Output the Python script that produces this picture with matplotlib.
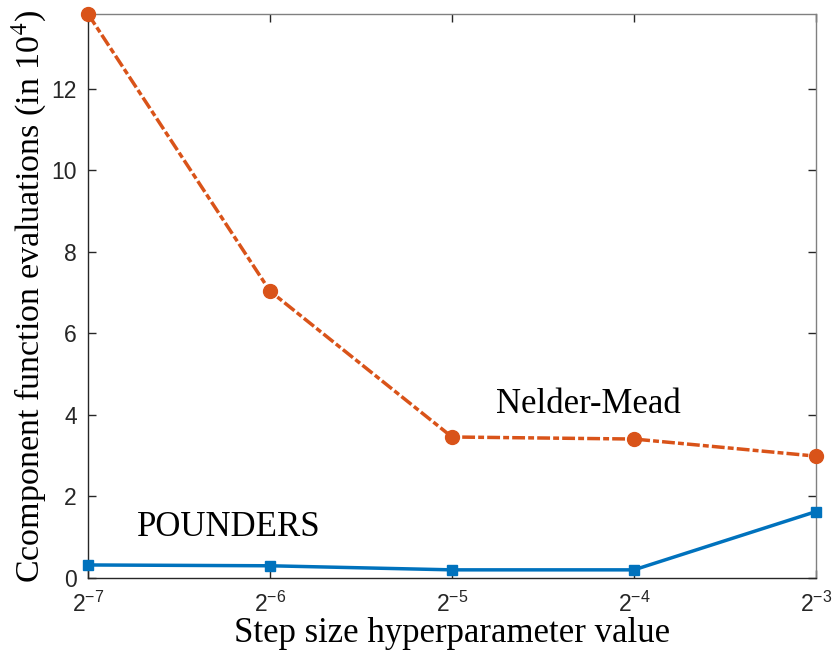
import matplotlib
matplotlib.use('Agg')
import matplotlib.pyplot as plt
import numpy as np

# step sizes as powers of two
step_exp = [-7, -6, -5, -4, -3]
nelder_mead = [13.84, 7.04, 3.46, 3.41, 2.99]
pounders = [0.32, 0.30, 0.20, 0.20, 1.63]
yticks = [0, 2, 4, 6, 8, 10, 12]

blue = '#0072BD'
orange = '#D95319'

plt.rcParams['mathtext.fontset'] = 'custom'
plt.rcParams['mathtext.rm'] = 'Liberation Sans'
plt.rcParams['mathtext.it'] = 'Liberation Sans:italic'
plt.rcParams['font.family'] = 'Liberation Sans'

steps = [2.0**e for e in step_exp]

fig = plt.figure(figsize=(8.35, 6.56), dpi=100)
ax = fig.add_axes([0.1054, 0.1189, 0.8718, 0.8598])

ax.plot(steps, nelder_mead, color=orange, linestyle=(0, (3.7, 0.9, 1.7, 0.9)),
        linewidth=2.5, marker='o', markersize=10, clip_on=False, zorder=3)
ax.plot(steps, pounders, color=blue, linestyle='-', linewidth=2.5,
        marker='s', markersize=7.5, clip_on=False, zorder=3)

ax.set_xscale('log', base=2)
ax.set_xlim(steps[0], steps[-1])
ax.set_ylim(0, nelder_mead[0])
ax.set_xticks(steps)
ax.set_xticklabels(['$2^{%d}$' % e for e in step_exp])
ax.minorticks_off()
ax.set_yticks(yticks)

ax.tick_params(direction='in', length=6, width=1, colors='#262626',
               labelsize=16.5, top=True, right=True)
ax.tick_params(axis='x', pad=10)
ax.tick_params(axis='y', pad=8)
for s in ax.spines.values():
    s.set_color('#262626')
    s.set_linewidth(1)
ax.spines['top'].set_color('#808080')
ax.spines['right'].set_color('#808080')

ax.set_xlabel('Step size hyperparameter value', family='Liberation Serif',
              fontsize=25, labelpad=0)
ax.set_ylabel('Ccomponent function evaluations (in 10$^4$)',
              family='Liberation Serif', fontsize=24.5, math_fontfamily='stix',
              labelpad=2)

ax.text(2.0**-4.253, 4.25, 'Nelder-Mead', family='Liberation Serif',
        fontsize=25, ha='center', va='center')
ax.text(2.0**-6.225, 1.23, 'POUNDERS', family='Liberation Serif',
        fontsize=25, ha='center', va='center')

fig.savefig('out.png', dpi=100)
